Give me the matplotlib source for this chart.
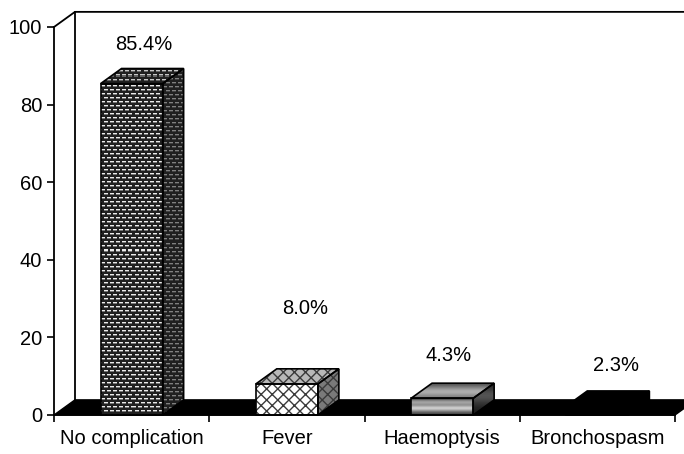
import matplotlib.pyplot as plt
import numpy as np
from matplotlib.patches import Polygon

plt.rcParams['font.family'] = ['Liberation Sans', 'DejaVu Sans']
plt.rcParams['hatch.linewidth'] = 1.0

categories = ['No complication', 'Fever', 'Haemoptysis', 'Bronchospasm']
values = [85.4, 8.0, 4.3, 2.3]
labels = ['85.4%', '8.0%', '4.3%', '2.3%']

# depth offset of the 3-D look (in data units) and label nudges
DX, DY = 0.135, 3.9
W = 0.4
label_dx = [0.08, 0.12, 0.04, 0.12]
label_dy = [10.0, 19.5, 11.0, 10.5]

fig = plt.figure(figsize=(6.84, 4.54), dpi=100)
ax = fig.add_axes([54/684, 39/454, 621/684, 388/454])
ax.set_xlim(-0.5, 3.5)
ax.set_ylim(0, 100)

for s in ['top', 'right']:
    ax.spines[s].set_visible(False)
for s in ['left', 'bottom']:
    ax.spines[s].set_linewidth(1.3)
    ax.spines[s].set_zorder(20)

ax.set_yticks(range(0, 101, 20))
ax.set_xticks(np.arange(-0.5, 3.6, 1.0))
ax.set_xticklabels([])
ax.set_xticks(range(4), minor=True)
ax.set_xticklabels(categories, minor=True)
ax.tick_params(axis='both', which='major', direction='out', length=5, width=1.2,
               labelsize=14.5)
ax.tick_params(axis='x', which='minor', length=0, labelsize=14.5, pad=10)

# back wall and floor
ax.plot([-0.5, -0.5 + DX, 3.5 + DX], [100, 100 + DY, 100 + DY], color='black',
        lw=1.3, clip_on=False)
ax.plot([-0.5 + DX, -0.5 + DX], [DY, 100 + DY], color='black', lw=1.3, clip_on=False)
ax.add_patch(Polygon([(-0.5, 0), (3.5, 0), (3.5 + DX, DY), (-0.5 + DX, DY)],
                     closed=True, facecolor='black', edgecolor='black',
                     clip_on=False, zorder=2))


def outline(pts, z):
    p = Polygon(pts, closed=True, fill=False, edgecolor='black', lw=1.2,
                clip_on=False, zorder=z + 0.1)
    ax.add_patch(p)
    return p


def face(pts, fc, hatch=None, hc='white', z=3):
    ax.add_patch(Polygon(pts, closed=True, facecolor=fc, edgecolor=hc, hatch=hatch,
                         lw=0, clip_on=False, zorder=z))
    outline(pts, z)


def bbox(pts):
    xs = [p[0] for p in pts]; ys = [p[1] for p in pts]
    return min(xs), max(xs), min(ys), max(ys)


def grad_face(pts, profile, z=3):
    x0, x1, y0, y1 = bbox(pts)
    arr = np.array(profile)[:, None]
    im = ax.imshow(arr, cmap='gray', vmin=0, vmax=1, extent=[x0, x1, y0, y1],
                   aspect='auto', interpolation='bicubic', zorder=z, origin='upper')
    im.set_clip_path(outline(pts, z))


def dot_face(pts, bright, z=3):
    # small white dashes in a brick layout on a dark ground
    x0, x1, y0, y1 = bbox(pts)
    (px0, py0), (px1, py1) = ax.transData.transform([(x0, y0), (x1, y1)])
    w, h = max(int(round(px1 - px0)), 1), max(int(round(py1 - py0)), 1)
    r, c = np.mgrid[0:h, 0:w]
    shift = 3 * ((r // 4) % 2)
    dash = (c + shift) % 6 < 4
    tex = np.full((h, w), 0.13)
    tex[(r % 4 == 2) & dash] = bright
    tex[(r % 4 == 3) & dash] = bright * 0.5
    im = ax.imshow(tex, cmap='gray', vmin=0, vmax=1, extent=[x0, x1, y0, y1],
                   aspect='auto', interpolation='nearest', zorder=z, origin='upper')
    im.set_clip_path(outline(pts, z))


for i, v in enumerate(values):
    x0, x1 = i - W / 2, i + W / 2
    front = [(x0, 0), (x1, 0), (x1, v), (x0, v)]
    top = [(x0, v), (x1, v), (x1 + DX, v + DY), (x0 + DX, v + DY)]
    side = [(x1, 0), (x1 + DX, DY), (x1 + DX, v + DY), (x1, v)]
    if i == 0:
        dot_face(front, 0.92)
        dot_face(top, 0.78)
        dot_face(side, 0.5)
    elif i == 1:
        face(front, 'white', 'xxx', '#3a3a3a')
        face(top, '#b8b8b8', 'xxx', '#3a3a3a')
        face(side, '#7a7a7a', 'xxx', '#3a3a3a')
    elif i == 2:
        grad_face(front, [0.35, 0.75, 0.45, 0.95, 0.55, 0.25])
        grad_face(top, [0.3, 0.55, 0.75, 0.5])
        grad_face(side, [0.15, 0.4, 0.2, 0.1])
    else:
        face(front, 'black', None, 'black')
        face(top, 'black', None, 'black')
        face(side, 'black', None, 'black')
    ax.text(i + label_dx[i], v + label_dy[i], labels[i], ha='center', va='center',
            fontsize=14.5, zorder=10)

fig.savefig('out.png', dpi=100)
